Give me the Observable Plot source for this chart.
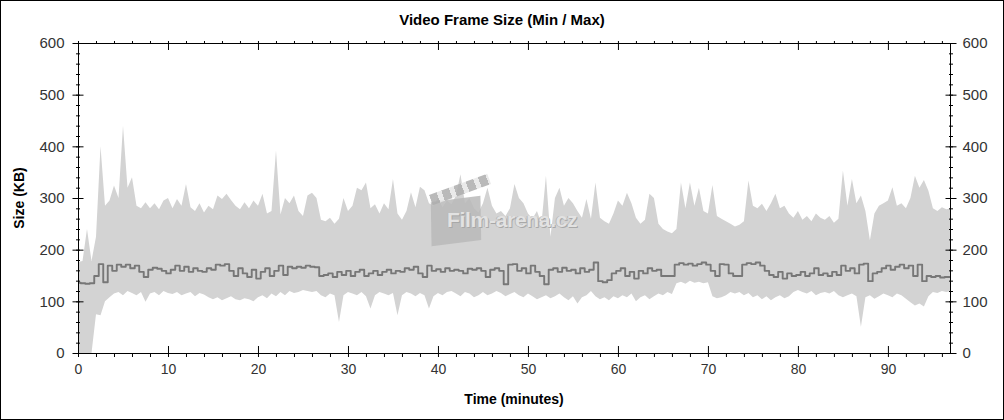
<!DOCTYPE html>
<html><head><meta charset="utf-8">
<script src="https://cdn.jsdelivr.net/npm/d3@7"></script>
<script src="https://cdn.jsdelivr.net/npm/@observablehq/plot@0.6"></script>
<style>
html,body{margin:0;padding:0;background:#fff;}
#wrap{position:relative;width:1004px;height:420px;box-sizing:border-box;border:1px solid #000;background:#fff;font-family:Arial,"Liberation Sans",sans-serif;overflow:hidden;}
#title{height:30px;padding-top:4px;line-height:30px;text-align:center;font-weight:bold;font-size:15px;color:#000;}
#chart svg{display:block;}
.ylab{position:absolute;left:18px;top:197px;transform:translate(-50%,-50%) rotate(-90deg);font-weight:bold;font-size:14px;white-space:nowrap;color:#000;}
.xlab{position:absolute;left:513px;top:398px;transform:translate(-50%,-50%);font-weight:bold;font-size:14px;white-space:nowrap;color:#000;}
.wm{position:absolute;left:446px;top:208px;font-weight:bold;font-size:21px;line-height:21px;color:#e2e2e2;text-shadow:1px 1px 0 #a8a8a8,-1px 0 0 #b8b8b8;pointer-events:none;white-space:nowrap;letter-spacing:-0.3px;}
.clap{position:absolute;left:430px;top:198px;width:50px;height:44px;background:#b8b8b8;transform:rotate(-7deg) skewX(-6deg);opacity:.85;pointer-events:none;}
.clapbar{position:absolute;left:428px;top:183px;width:62px;height:11px;background:repeating-linear-gradient(90deg,#adadad 0 8px,#e6e6e6 8px 13px);transform:rotate(-20deg);opacity:.85;pointer-events:none;}
</style></head>
<body>
<div id="wrap">
  <div id="title">Video Frame Size (Min / Max)</div>
  <div id="chart"></div>
  <div class="clap"></div>
  <div class="clapbar"></div>
  <div class="wm">Film-arena.cz</div>
  <div class="ylab">Size (KB)</div>
  <div class="xlab">Time (minutes)</div>
</div>
<script>
// sampling: one value every half minute, starting at 0 min
const startMinute = 0;
const stepMinutes = 0.5;

// maximum frame size (KB) per half-minute
const maxKB = [
 176,178,240,178,225,400,285,295,324,300,
 440,320,340,285,280,292,280,290,278,295,
 300,280,298,285,327,282,275,290,272,285,
 278,305,298,308,296,285,278,292,280,295,
 285,308,270,275,392,268,300,290,305,275,
 265,305,310,300,258,255,262,250,260,300,
 275,285,320,315,330,280,288,270,290,278,
 337,270,258,275,311,282,322,315,290,285,
 300,282,295,288,305,346,290,300,280,272,
 290,320,285,270,275,265,280,327,300,290,
 270,260,275,250,343,225,300,320,285,300,
 290,275,262,298,260,330,262,255,250,270,
 295,285,310,290,262,250,258,308,300,250,
 240,235,232,240,330,280,330,285,320,275,
 270,325,265,260,255,250,245,248,255,334,
 285,280,289,275,290,308,280,285,270,262,
 275,258,265,255,270,262,258,265,252,260,
 353,285,337,290,305,275,218,270,285,290,
 295,321,285,290,280,300,343,320,335,314,
 280,275,282,278,280
];

// minimum frame size (KB) per half-minute
const minKB = [
 0,0,0,0,75,73,100,108,115,118,
 112,120,116,112,118,99,115,118,112,120,
 116,114,118,112,115,118,110,116,113,108,
 104,108,102,106,110,104,102,106,104,100,
 108,112,106,115,110,118,112,120,116,118,
 122,120,118,120,112,108,115,112,60,112,
 118,115,112,118,110,86,112,118,115,112,
 116,73,112,118,115,110,116,112,86,110,
 116,112,118,120,115,110,118,115,108,112,
 118,112,115,120,116,110,114,118,112,108,
 115,110,104,108,112,106,110,115,108,102,
 110,96,108,112,120,110,104,108,102,110,
 106,112,108,115,100,108,112,104,110,115,
 112,118,114,135,138,134,140,136,138,135,
 137,110,106,108,112,118,115,118,112,116,
 108,112,104,110,102,108,112,106,110,118,
 122,118,115,120,112,116,118,115,120,112,
 108,112,115,110,51,108,112,105,110,115,
 112,108,115,112,105,98,92,96,90,110,
 118,116,120,118,120
];

// average frame size (KB) per half-minute
const avgKB = [
 137,136,135,136,150,173,138,170,160,172,
 168,172,165,170,158,148,162,166,164,160,
 155,162,170,160,168,158,165,160,158,165,
 162,172,170,173,160,150,165,155,148,162,
 145,158,165,150,160,170,152,168,165,168,
 166,170,168,167,150,152,155,148,158,152,
 160,150,158,162,150,155,160,152,158,162,
 155,160,158,165,162,168,155,148,170,160,
 163,158,165,160,162,160,155,164,162,165,
 160,148,162,165,160,134,172,173,160,165,
 155,170,158,150,134,162,165,158,166,160,
 162,155,165,158,162,176,140,138,142,155,
 160,165,150,158,145,160,155,165,160,162,
 150,150,150,172,175,172,174,170,173,176,
 172,160,150,173,172,155,150,150,172,175,
 173,176,170,160,152,148,158,145,155,150,
 152,158,150,155,165,152,155,150,158,152,
 170,160,165,155,172,174,140,155,158,165,
 170,162,168,172,165,170,150,172,140,150,
 148,150,147,148,148
];

const yTicks = [0,100,200,300,400,500,600];
const xTicks = [0,10,20,30,40,50,60,70,80,90];
const yMinor = d3.range(0, 601, 20);
const xMinor = d3.range(0, 97, 2);

const data = maxKB.map((v, i) => ({
  t: startMinute + i * stepMinutes, max: v, min: minKB[i], avg: avgKB[i]
}));

const blank = () => "";
const chart = Plot.plot({
  width: 1002,
  height: 384,
  marginTop: 8,
  marginBottom: 66,
  marginLeft: 77,
  marginRight: 53,
  x: {domain: [0, 96.9]},
  y: {domain: [0, 600]},
  style: {fontFamily: "Arial, 'Liberation Sans', sans-serif", fontSize: "15px", background: "#fff", overflow: "visible"},
  marks: [
    Plot.areaY(data, {x: "t", y1: "min", y2: "max", fill: "#d3d3d3", curve: "linear", clip: true}),
    Plot.line(data, {x: "t", y: "avg", stroke: "#777777", strokeWidth: 1.9, curve: "step", clip: true}),
    Plot.frame({stroke: "#000"}),
    // left axis
    Plot.axisY({anchor: "left", ticks: yMinor, tickSize: 4, dx: 2, tickFormat: blank, label: null, color: "#000"}),
    Plot.axisY({anchor: "left", ticks: yTicks, tickSize: 11, dx: 5.5, tickFormat: blank, label: null, color: "#000"}),
    Plot.axisY({anchor: "left", ticks: yTicks, tickSize: 0, tickPadding: 14, label: null, color: "#333", fontSize: 15}),
    // right axis
    Plot.axisY({anchor: "right", ticks: yMinor, tickSize: 4, dx: -2, tickFormat: blank, label: null, color: "#000"}),
    Plot.axisY({anchor: "right", ticks: yTicks, tickSize: 11, dx: -5.5, tickFormat: blank, label: null, color: "#000"}),
    Plot.axisY({anchor: "right", ticks: yTicks, tickSize: 0, tickPadding: 12, label: null, color: "#333", fontSize: 15}),
    // bottom axis
    Plot.axisX({anchor: "bottom", ticks: xMinor, tickSize: 4, tickFormat: blank, label: null, color: "#000"}),
    Plot.axisX({anchor: "bottom", ticks: xTicks, tickSize: 7, dy: -7, tickFormat: blank, label: null, color: "#000"}),
    Plot.axisX({anchor: "bottom", ticks: xTicks, tickSize: 0, tickPadding: 11, label: null, color: "#333", fontSize: 14}),
    // top axis
    Plot.axisX({anchor: "top", ticks: xMinor, tickSize: 3, tickFormat: blank, label: null, color: "#000"}),
    Plot.axisX({anchor: "top", ticks: xTicks, tickSize: 6, dy: 6, tickFormat: blank, label: null, color: "#000"})
  ]
});
document.getElementById("chart").appendChild(chart);
</script>
</body></html>
